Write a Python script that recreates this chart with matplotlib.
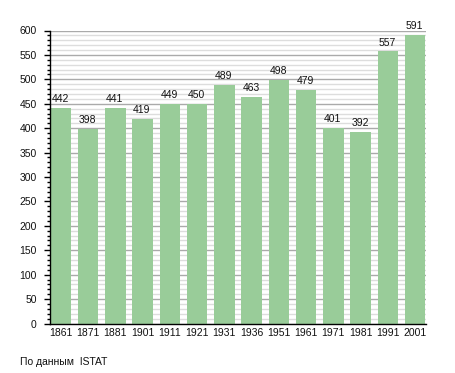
import matplotlib
matplotlib.use("Agg")
import matplotlib.pyplot as plt
from matplotlib.ticker import MultipleLocator

years = ["1861", "1871", "1881", "1901", "1911", "1921", "1931", "1936",
         "1951", "1961", "1971", "1981", "1991", "2001"]
population = [442, 398, 441, 419, 449, 450, 489, 463, 498, 479, 401, 392, 557, 591]
source_note = "По данным  ISTAT"

plt.rcParams['font.family'] = ['Liberation Sans', 'DejaVu Sans']

W, H = 455, 373
fig = plt.figure(figsize=(W / 100, H / 100), dpi=100)
left, right, top, bottom = 50, 426, 30.5, 323.5
ax = fig.add_axes([left / W, 1 - bottom / H, (right - left) / W, (bottom - top) / H])

x = list(range(len(years)))
bw = 0.76
fs = 7.5
ax.bar(x, population, width=bw, color='#99cc99', zorder=3)
for xi, v in zip(x, population):
    ax.annotate(str(v), (xi, v), xytext=(-0.5, 4.3), textcoords='offset points',
                ha='center', va='baseline', fontsize=fs, color='#111111', zorder=4)

ax.set_xlim(-bw / 2 - 0.02, len(years) - 1 + bw / 2 + 0.02)
ax.set_ylim(0, 600)
ax.set_xticks(x)
ax.set_xticklabels(years, fontsize=fs, color='#111111')
ax.tick_params(axis='x', length=0, pad=3)

ax.yaxis.set_major_locator(MultipleLocator(50))
ax.yaxis.set_minor_locator(MultipleLocator(10))
ax.tick_params(axis='y', which='major', length=4.5, width=1, labelsize=fs, pad=5,
               labelcolor='#111111')
ax.tick_params(axis='y', which='minor', length=2.5, width=1)

ax.grid(axis='y', which='major', color='#aaaaaa', linewidth=1, zorder=1)
ax.grid(axis='y', which='minor', color='#dddddd', linewidth=1, zorder=1)
ax.set_axisbelow(True)

for s in ['top', 'right']:
    ax.spines[s].set_visible(False)
for s in ['left', 'bottom']:
    ax.spines[s].set_color('black')
    ax.spines[s].set_linewidth(1)
    ax.spines[s].set_zorder(5)

fig.text(20 / W, 1 - 362 / H, source_note, fontsize=fs, ha='left', va='center', color='#111111')

fig.savefig("out.png", dpi=100)
